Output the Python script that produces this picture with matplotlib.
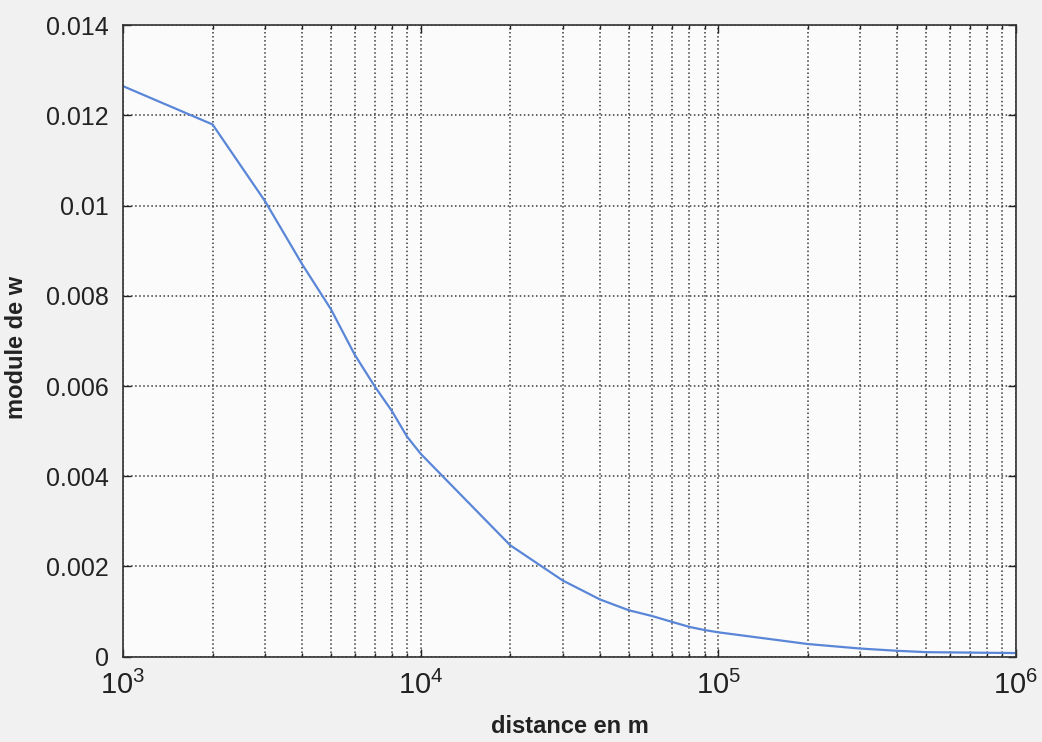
import numpy as np
import matplotlib
matplotlib.use("Agg")
import matplotlib.pyplot as plt
from matplotlib.ticker import LogLocator, FixedLocator, FuncFormatter

# distance (m) and modulus of w, sampled at 1..9 x 10^k
distance = [1e3, 2e3, 3e3, 4e3, 5e3, 6e3, 7e3, 8e3, 9e3,
            1e4, 2e4, 3e4, 4e4, 5e4, 6e4, 7e4, 8e4, 9e4,
            1e5, 2e5, 3e5, 4e5, 5e5, 7e5, 1e6]
module_w = [0.01265, 0.01180, 0.0101, 0.0087, 0.0077, 0.0067, 0.0060, 0.00545, 0.00488,
            0.0045, 0.00247, 0.00169, 0.00127, 0.00103, 0.00090, 0.00077, 0.00066, 0.00059,
            0.00054, 0.00028, 0.00018, 0.00013, 0.00010, 0.00009, 0.00008]

y_ticks = [0, 0.002, 0.004, 0.006, 0.008, 0.01, 0.012, 0.014]

plt.rcParams['font.family'] = ['Liberation Sans', 'DejaVu Sans']
plt.rcParams['mathtext.fontset'] = 'custom'
plt.rcParams['mathtext.rm'] = 'Liberation Sans'

fig = plt.figure(figsize=(10.42, 7.42), dpi=100, facecolor='#f1f1f1')
ax = fig.add_axes([0.118, 0.115, 0.857, 0.851])
ax.set_facecolor('#fbfbfb')

ax.plot(distance, module_w, color='#5a86d8', lw=1.6)

ax.set_xscale('log')
ax.set_xlim(1e3, 1e6)
ax.set_ylim(0, 0.014)
ax.yaxis.set_major_locator(FixedLocator(y_ticks))
ax.yaxis.set_major_formatter(FuncFormatter(lambda v, p: '%g' % v))
ax.xaxis.set_major_locator(LogLocator(base=10))
ax.xaxis.set_minor_locator(LogLocator(base=10, subs=np.arange(2, 10)))

ax.grid(True, which='both', axis='x', ls=':', color='#3a3a3a', lw=1.1)
ax.grid(True, which='major', axis='y', ls=':', color='#3a3a3a', lw=1.1)

ax.tick_params(which='both', direction='in', colors='#222222')
ax.tick_params(which='major', length=6, width=1)
ax.tick_params(which='minor', length=3, width=1)
ax.tick_params(axis='x', pad=10, labelsize=21)
ax.tick_params(axis='y', pad=10, labelsize=18)
ax.xaxis.set_tick_params(which='both', top=True)
ax.yaxis.set_tick_params(which='both', right=True)
for s in ax.spines.values():
    s.set_color('#333333')
    s.set_linewidth(1.2)

ax.set_xlabel('distance en m', fontsize=17, fontweight='bold', color='#222222')
ax.set_ylabel('module de w', fontsize=17, fontweight='bold', color='#222222')
ax.xaxis.set_label_coords(0.5, -0.092)
ax.yaxis.set_label_coords(-0.106, 0.49)

fig.savefig('out.png', dpi=100, facecolor=fig.get_facecolor())
